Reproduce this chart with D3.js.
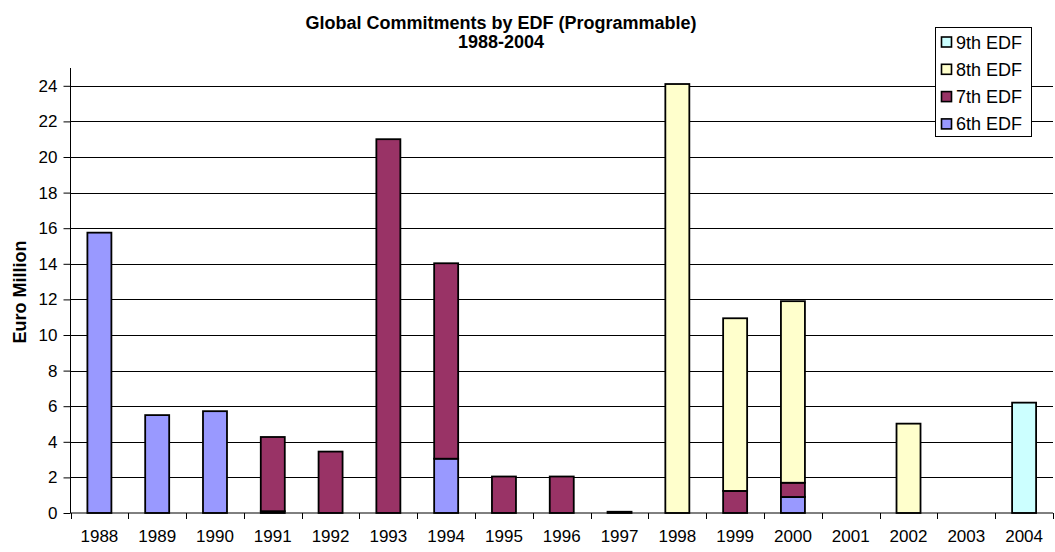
<!DOCTYPE html>
<html>
<head>
<meta charset="utf-8">
<script src="https://cdn.jsdelivr.net/npm/d3@7"></script>
<style>
html,body{margin:0;padding:0;background:#fff;}
svg{display:block;}
text{font-family:"Liberation Sans",Arial,sans-serif;fill:#000;}
</style>
</head>
<body>
<svg id="chart" width="1055" height="552"></svg>
<script>
const years = ["1988","1989","1990","1991","1992","1993","1994","1995","1996","1997","1998","1999","2000","2001","2002","2003","2004"];
const edf6 = [15.75, 5.5, 5.72, 0.1, 0, 0, 3.05, 0, 0, 0, 0, 0, 0.9, 0, 0, 0, 0];
const edf7 = [0, 0, 0, 4.17, 3.45, 21.0, 10.98, 2.05, 2.05, 0.07, 0, 1.24, 0.8, 0, 0, 0, 0];
const edf8 = [0, 0, 0, 0, 0, 0, 0, 0, 0, 0, 24.1, 9.7, 10.2, 0, 5.02, 0, 0];
const edf9 = [0, 0, 0, 0, 0, 0, 0, 0, 0, 0, 0, 0, 0, 0, 0, 0, 6.2];
const seriesNames = ["6th EDF", "7th EDF", "8th EDF", "9th EDF"];
const seriesColors = ["#9999FF", "#993366", "#FFFFCC", "#CCFFFF"];
const yTicks = [0, 2, 4, 6, 8, 10, 12, 14, 16, 18, 20, 22, 24];
const titleLines = ["Global Commitments by EDF (Programmable)", "1988-2004"];
const yTitle = "Euro Million";

const svg = d3.select("#chart");
const pLeft = 70.5, pRight = 1053, pTop = 68, pBottom = 513;

const x = d3.scaleBand().domain(years).range([pLeft, pRight]).paddingInner(0).paddingOuter(0);
const y = d3.scaleLinear().domain([0, 25]).range([pBottom, pTop]);

const rows = years.map((yr, i) => ({year: yr, "6th EDF": edf6[i], "7th EDF": edf7[i], "8th EDF": edf8[i], "9th EDF": edf9[i]}));
const stack = d3.stack().keys(seriesNames)(rows);

// gridlines
svg.append("g").selectAll("line").data(yTicks.filter(d => d > 0)).join("line")
  .attr("x1", pLeft).attr("x2", pRight)
  .attr("y1", d => Math.round(y(d)) + 0.5).attr("y2", d => Math.round(y(d)) + 0.5)
  .attr("stroke", "#000").attr("stroke-width", 1);

// bars
const barW = 24;
stack.forEach((layer, si) => {
  svg.append("g").selectAll("rect").data(layer.filter(d => d[1] - d[0] > 0)).join("rect")
    .attr("x", d => x(d.data.year) + x.bandwidth() / 2 - barW / 2)
    .attr("y", d => y(d[1]))
    .attr("width", barW)
    .attr("height", d => y(d[0]) - y(d[1]))
    .attr("fill", seriesColors[si])
    .attr("stroke", "#000").attr("stroke-width", 1.8);
});

// y axis
const yAxis = d3.axisLeft(y).tickValues(yTicks).tickSize(7).tickPadding(6);
const gy = svg.append("g").attr("transform", `translate(${pLeft},0)`).call(yAxis);
gy.select(".domain").attr("stroke", "#000").attr("d", `M0,${pTop}V${pBottom}`);
gy.selectAll(".tick line").attr("stroke", "#000");
gy.selectAll(".tick text").attr("font-size", "17px").attr("font-family", "Liberation Sans, Arial, sans-serif").attr("fill", "#000");

// x axis
const xAxis = d3.axisBottom(x).tickSize(0).tickPadding(17);
const gx = svg.append("g").attr("transform", `translate(0,${pBottom})`).call(xAxis);
gx.select(".domain").attr("stroke", "#000").attr("d", `M${pLeft},0H${pRight}`);
gx.selectAll(".tick text").attr("font-size", "17px").attr("font-family", "Liberation Sans, Arial, sans-serif").attr("fill", "#000");
const bounds = years.map(yr => x(yr)).concat([pRight]);
gx.append("g").selectAll("line").data(bounds).join("line")
  .attr("x1", d => Math.round(d) + 0.5).attr("x2", d => Math.round(d) + 0.5)
  .attr("y1", 0).attr("y2", 6).attr("stroke", "#000");

// title
svg.append("text").attr("x", 501).attr("y", 29).attr("text-anchor", "middle")
  .attr("font-size", "18px").attr("font-weight", "bold").text(titleLines[0]);
svg.append("text").attr("x", 501).attr("y", 48).attr("text-anchor", "middle")
  .attr("font-size", "18px").attr("font-weight", "bold").text(titleLines[1]);

// y title
svg.append("text").attr("transform", "translate(26,292) rotate(-90)").attr("text-anchor", "middle")
  .attr("font-size", "18px").attr("font-weight", "bold").text(yTitle);

// legend
const lg = svg.append("g");
lg.append("rect").attr("x", 935.5).attr("y", 27.5).attr("width", 96).attr("height", 109)
  .attr("fill", "#fff").attr("stroke", "#000").attr("stroke-width", 1);
const legendOrder = [3, 2, 1, 0];
legendOrder.forEach((si, k) => {
  const cy = 42 + k * 27.3;
  lg.append("rect").attr("x", 941.5).attr("y", cy - 5).attr("width", 10).attr("height", 10)
    .attr("fill", seriesColors[si]).attr("stroke", "#000").attr("stroke-width", 1.6);
  lg.append("text").attr("x", 956).attr("y", cy + 6.5).attr("font-size", "18px").text(seriesNames[si]);
});
</script>
</body>
</html>
